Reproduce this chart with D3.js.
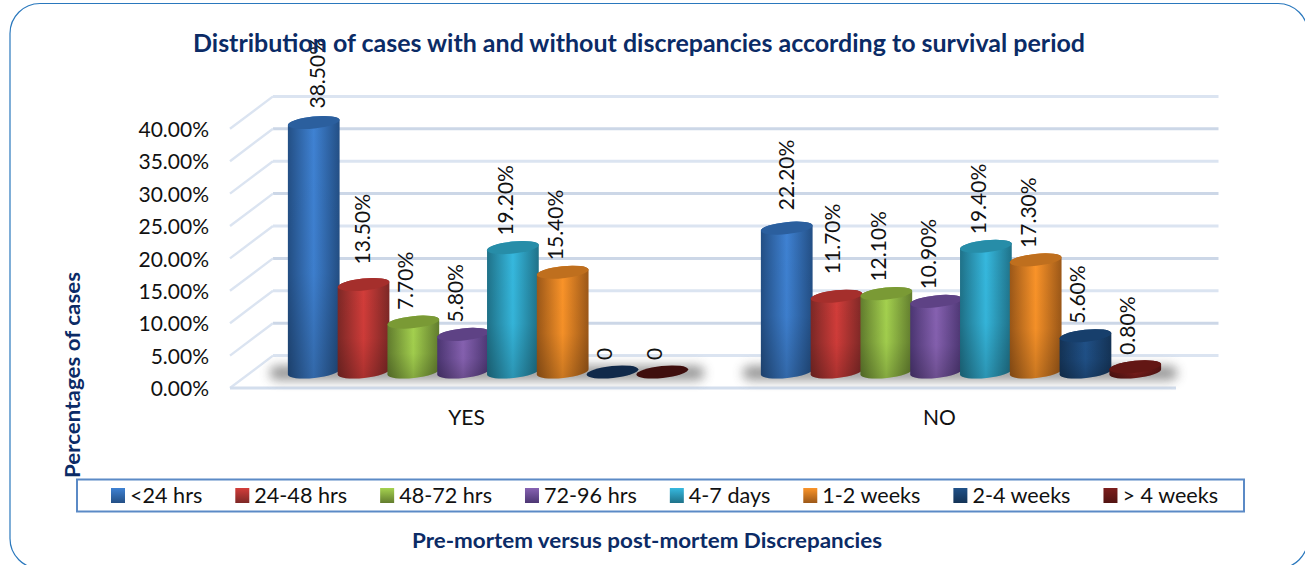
<!DOCTYPE html>
<html>
<head>
<meta charset="utf-8">
<script src="https://d3js.org/d3.v7.min.js"></script>
<style>
    html, body { margin: 0; padding: 0; background: #fff; overflow: hidden; }
    text { font-family: Lato, "Open Sans", sans-serif; }
</style>
</head>
<body>
<svg id="chart" width="1305" height="565"></svg>
<script>
// --- Data ---
const categories = ['YES', 'NO'];
const periods = ['<24 hrs', '24-48 hrs', '48-72 hrs', '72-96 hrs', '4-7 days', '1-2 weeks', '2-4 weeks', '> 4 weeks'];
const yesValues = [38.5, 13.5, 7.7, 5.8, 19.2, 15.4, 0, 0];
const noValues = [22.2, 11.7, 12.1, 10.9, 19.4, 17.3, 5.6, 0.8];
const yTicks = [0, 5, 10, 15, 20, 25, 30, 35, 40];

const titleText = 'Distribution of cases with and without discrepancies according to survival period';
const yTitleText = 'Percentages of cases';
const xTitleText = 'Pre-mortem versus post-mortem Discrepancies';

// --- Colours per series ---
const edgeColors = ['#234f85', '#7d2826', '#627d2e', '#4c3673', '#1f7289', '#9c5818', '#143356', '#521412'];
const midColors = ['#3f82d3', '#d33d3a', '#a5d24f', '#8762b2', '#36b9df', '#fb9429', '#205188', '#7c1e1c'];
const topColors = ['#2b5f9e', '#a52f2c', '#7a9a35', '#5e4285', '#278da8', '#bf6f1e', '#173f6c', '#631714'];
const flatColors = ['#2b5f9e', '#a52f2c', '#7a9a35', '#5e4285', '#278da8', '#bf6f1e', '#10294a', '#3f0e0d'];

// a few labels sit further from their bar in the original
const labelNudge = {
    'YES|<24 hrs': { dx: 11, gap: 14 },
    'YES|24-48 hrs': { dx: 6, gap: 20 },
    'NO|<24 hrs': { dx: 7, gap: 18 },
    'NO|24-48 hrs': { dx: 3, gap: 22 }
};

const svg = d3.select('#chart');
const defs = svg.append('defs');

// --- Frame ---
svg.append('rect')
    .attr('x', 10).attr('y', 3.5)
    .attr('width', 1298).attr('height', 565)
    .attr('rx', 30).attr('ry', 30)
    .attr('fill', '#fff')
    .attr('stroke', '#2a78bd')
    .attr('stroke-width', 1.2);

// --- Scales ---
const depthX = 43;
const depthY = 32.4;
const rx = 26;
const ry = 6;
const tilt = -6;

const yFront = d3.scaleLinear().domain([0, 40]).range([388, 128.8]);
const xFront = d3.scaleBand().domain(categories).range([230, 1176]);
const xInner = d3.scaleBand().domain(periods).range([0, xFront.bandwidth()]).paddingInner(0).paddingOuter(0.75);
const yBar = v => yFront(v) - 16;

// --- Gradients ---
periods.forEach((p, i) => {
    const side = defs.append('linearGradient').attr('id', `side-${i}`)
        .attr('x1', 0).attr('x2', 1).attr('y1', 0).attr('y2', 0);
    side.append('stop').attr('offset', 0).attr('stop-color', edgeColors[i]);
    side.append('stop').attr('offset', 0.5).attr('stop-color', midColors[i]);
    side.append('stop').attr('offset', 1).attr('stop-color', edgeColors[i]);

    const swatch = defs.append('linearGradient').attr('id', `swatch-${i}`)
        .attr('x1', 0).attr('x2', 0).attr('y1', 0).attr('y2', 1);
    swatch.append('stop').attr('offset', 0).attr('stop-color', midColors[i]);
    swatch.append('stop').attr('offset', 1).attr('stop-color', edgeColors[i]);
});

const fade = defs.append('linearGradient').attr('id', 'fade')
    .attr('x1', 0).attr('x2', 0).attr('y1', 0).attr('y2', 1);
fade.append('stop').attr('offset', 0).attr('stop-color', '#000').attr('stop-opacity', 0);
fade.append('stop').attr('offset', 0.6).attr('stop-color', '#000').attr('stop-opacity', 0.03);
fade.append('stop').attr('offset', 1).attr('stop-color', '#000').attr('stop-opacity', 0.2);

defs.append('filter').attr('id', 'blur')
    .attr('x', '-10%').attr('y', '-100%').attr('width', '120%').attr('height', '300%')
    .append('feGaussianBlur').attr('stdDeviation', 5.5);

// --- Walls and floor ---
const grid = svg.append('g');
const gridStroke = v => (v / 5) % 2 === 0 ? '#dbe4f1' : '#ccd7e7';

yTicks.forEach(v => {
    grid.append('line')
        .attr('x1', 273).attr('x2', 1218.5)
        .attr('y1', yFront(v) - depthY).attr('y2', yFront(v) - depthY)
        .attr('stroke', gridStroke(v)).attr('stroke-width', 3);
    grid.append('line')
        .attr('x1', 230).attr('x2', 230 + depthX)
        .attr('y1', yFront(v)).attr('y2', yFront(v) - depthY)
        .attr('stroke', '#dbe4f1').attr('stroke-width', 2.4);
});
grid.append('line')
    .attr('x1', 230).attr('x2', 1176)
    .attr('y1', yFront(0)).attr('y2', yFront(0))
    .attr('stroke', '#d3deed').attr('stroke-width', 3);

// --- Shadows ---
categories.forEach(cat => {
    const x0 = xFront(cat) + depthX / 2;
    const left = x0 + xInner(periods[0]) + xInner.bandwidth() / 2 - rx - 18;
    const right = x0 + xInner(periods[7]) + xInner.bandwidth() / 2 + rx + 16;
    svg.append('rect')
        .attr('x', left).attr('y', 366)
        .attr('width', right - left).attr('height', 14)
        .attr('rx', 7)
        .attr('fill', '#555')
        .attr('opacity', 0.62)
        .attr('filter', 'url(#blur)');
});

// --- Cylinders ---
const t = tilt * Math.PI / 180;
const offX = rx * Math.cos(t);
const offY = rx * Math.sin(t);

function cylinderPath(cx, yTop, yBase) {
    const arc = `A${rx},${ry} ${tilt} 0 0`;
    return `M${cx - offX},${yTop - offY}L${cx - offX},${yBase - offY}`
        + `${arc} ${cx + offX},${yBase + offY}L${cx + offX},${yTop + offY}`
        + `${arc} ${cx - offX},${yTop - offY}Z`;
}

const seriesByCategory = { YES: yesValues, NO: noValues };
const labelLayer = [];

categories.forEach(cat => {
    const x0 = xFront(cat) + depthX / 2;
    const g = svg.append('g').attr('class', `group-${cat}`);

    periods.forEach((p, i) => {
        const v = seriesByCategory[cat][i];
        const cx = x0 + xInner(p) + xInner.bandwidth() / 2;
        const yTop = yBar(v);
        const yBase = yBar(0);

        if (v > 0) {
            const d = cylinderPath(cx, yTop, yBase);
            g.append('path').attr('d', d).attr('fill', `url(#side-${i})`);
            g.append('path').attr('d', d).attr('fill', 'url(#fade)');
        }
        g.append('ellipse')
            .attr('rx', rx).attr('ry', ry)
            .attr('transform', `translate(${cx},${yTop}) rotate(${tilt})`)
            .attr('fill', v > 0 ? topColors[i] : flatColors[i]);

        const nudge = labelNudge[`${cat}|${p}`] || { dx: 0, gap: 12 };
        labelLayer.push({
            x: cx + nudge.dx,
            y: yTop - nudge.gap,
            text: v === 0 ? '0' : v.toFixed(2) + '%'
        });
    });
});

// --- Data labels ---
svg.append('g').selectAll('text')
    .data(labelLayer)
    .enter()
    .append('text')
    .attr('transform', d => `translate(${d.x},${d.y}) rotate(-90)`)
    .attr('font-size', 21)
    .attr('fill', '#111')
    .text(d => d.text);

// --- Axes ---
const yAxis = svg.append('g')
    .attr('transform', 'translate(209,1)')
    .call(d3.axisLeft(yFront).tickValues(yTicks).tickSize(0).tickPadding(0).tickFormat(d => d.toFixed(2) + '%'));
yAxis.select('.domain').remove();
yAxis.selectAll('text')
    .attr('font-size', 21)
    .attr('font-family', 'Lato')
    .attr('fill', '#111');

const xAxis = svg.append('g')
    .attr('transform', 'translate(0,410)')
    .call(d3.axisBottom(xFront).tickSize(0).tickPadding(0));
xAxis.select('.domain').remove();
xAxis.selectAll('text')
    .attr('font-size', 21)
    .attr('font-family', 'Lato')
    .attr('fill', '#111');

// --- Titles ---
svg.append('text')
    .attr('x', 639).attr('y', 52)
    .attr('text-anchor', 'middle')
    .attr('font-size', 25)
    .attr('font-weight', 700)
    .attr('fill', '#0b2b66')
    .attr('textLength', 892)
    .attr('lengthAdjust', 'spacingAndGlyphs')
    .text(titleText);

svg.append('text')
    .attr('transform', 'translate(80,375) rotate(-90)')
    .attr('text-anchor', 'middle')
    .attr('font-size', 21)
    .attr('font-weight', 700)
    .attr('fill', '#0b2b66')
    .attr('textLength', 206)
    .attr('lengthAdjust', 'spacingAndGlyphs')
    .text(yTitleText);

svg.append('text')
    .attr('x', 647).attr('y', 548)
    .attr('text-anchor', 'middle')
    .attr('font-size', 21.5)
    .attr('font-weight', 700)
    .attr('fill', '#0b2b66')
    .attr('textLength', 470)
    .attr('lengthAdjust', 'spacingAndGlyphs')
    .text(xTitleText);

// --- Legend ---
svg.append('rect')
    .attr('x', 77).attr('y', 479.5)
    .attr('width', 1167).attr('height', 32)
    .attr('fill', '#fff')
    .attr('stroke', '#5b8ac6')
    .attr('stroke-width', 2);

let cursor = 111;
periods.forEach((p, i) => {
    svg.append('rect')
        .attr('x', cursor).attr('y', 488)
        .attr('width', 14).attr('height', 15)
        .attr('fill', `url(#swatch-${i})`);
    const label = svg.append('text')
        .attr('x', cursor + 19).attr('y', 502.5)
        .attr('font-size', 21.6)
        .attr('fill', '#111')
        .text(p);
    cursor += 19 + label.node().getComputedTextLength() + 33;
});
</script>
</body>
</html>
